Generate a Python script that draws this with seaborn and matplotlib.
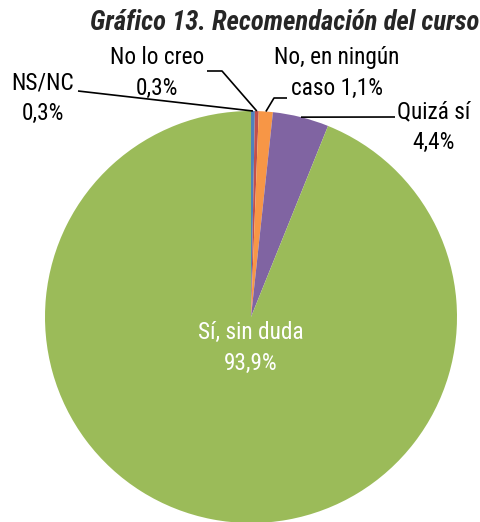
import numpy as np
import matplotlib
matplotlib.use("Agg")
import matplotlib.pyplot as plt
import seaborn as sns
from matplotlib import font_manager
from matplotlib.font_manager import FontProperties

# ---- data ----
categories = ["NS/NC", "No lo creo", "No, en ningún caso", "Quizá sí", "Sí, sin duda"]
values = [0.3, 0.3, 1.1, 4.4, 93.9]
label_texts = ["NS/NC\n0,3%", "No lo creo\n0,3%", "No, en ningún\ncaso 1,1%", "Quizá sí\n4,4%", "Sí, sin duda\n93,9%"]
colors = ["#4F81BD", "#C0504D", "#F79646", "#8064A2", "#9BBB59"]
title = "Gráfico 13. Recomendación del curso"

sns.set_theme(style="white")
plt.rcParams["font.family"] = ["Liberation Sans", "DejaVu Sans"]

fonts = font_manager.fontManager.ttflist

def find_font(names, italic, bold):
    for n in names:
        for f in fonts:
            if f.name != n:
                continue
            if (f.style == "italic") != italic:
                continue
            w = f.weight if isinstance(f.weight, int) else 400
            if bold and w < 700:
                continue
            if not bold and w != 400:
                continue
            return FontProperties(fname=f.fname)
    return None

lab_fp = find_font(["Roboto Condensed", "Archivo Narrow", "PT Sans Narrow"], False, False)
if lab_fp is None:
    lab_fp = FontProperties(family=["Liberation Sans", "DejaVu Sans"])
tit_fp = find_font(["Roboto Condensed"], True, True)
if tit_fp is None:
    tit_fp = FontProperties(family=["Liberation Sans", "DejaVu Sans"], weight="bold", style="italic")

W, H = 481, 522
fig = plt.figure(figsize=(W / 100, H / 100), dpi=100)
cx, cy, R = 251, 317, 206
ax = fig.add_axes([(cx - R) / W, (H - cy - R) / H, 2 * R / W, 2 * R / H])
ax.pie(values, colors=colors, startangle=90, counterclock=False, radius=1,
       wedgeprops=dict(linewidth=0))
ax.set_xlim(-1, 1)
ax.set_ylim(-1, 1)
ax.set_aspect("equal")
ax.axis("off")

def p2d(px, py):
    return ((px - cx) / R, (cy - py) / R)

cum = np.cumsum([0] + values[:-1])
mids = [90 - 360 * (c + v / 2) / 100 for c, v in zip(cum, values)]
edge = [(np.cos(np.radians(a)), np.sin(np.radians(a))) for a in mids]

lab_pos = [(43, 98), (157, 73), (337, 73), (434, 127), (251, 348)]
leaders = [
    [(78, 91)],
    [(207, 71), (222, 71)],
    [(287, 98), (274, 98)],
    [(395, 117)],
]

texts = []
for i, (txt, (px, py)) in enumerate(zip(label_texts, lab_pos)):
    x, y = p2d(px, py)
    col = "white" if i == 4 else "black"
    fp = lab_fp.copy()
    fp.set_size(15)
    t = ax.text(x, y, txt, ha="center", va="center", fontproperties=fp, color=col,
                linespacing=1.42, clip_on=False)
    texts.append(t)

for i, pts in enumerate(leaders):
    xs = [p2d(*p)[0] for p in pts] + [edge[i][0]]
    ys = [p2d(*p)[1] for p in pts] + [edge[i][1]]
    ax.plot(xs, ys, color="black", lw=1.2, clip_on=False, solid_capstyle="butt")

tfp = tit_fp.copy()
tfp.set_size(16)
tt = fig.text(479 / W, 1 - 22 / H, title, ha="right", va="center", fontproperties=tfp)

# fit font sizes to the reference text widths
fig.canvas.draw()
r = fig.canvas.get_renderer()
ref_w = 125.0  # width of "No, en ningún" in reference (slightly enlarged for narrower look)
for _ in range(2):
    probe = ax.text(0, 0, "No, en ningún", fontproperties=texts[0].get_fontproperties())
    wpx = probe.get_window_extent(r).width
    probe.remove()
    s = texts[0].get_fontsize() * ref_w / wpx
    for t in texts:
        t.set_fontsize(s)
    tw = tt.get_window_extent(r).width
    tt.set_fontsize(tt.get_fontsize() * 390.0 / tw)
    fig.canvas.draw()

fig.savefig("out.png", dpi=100)
